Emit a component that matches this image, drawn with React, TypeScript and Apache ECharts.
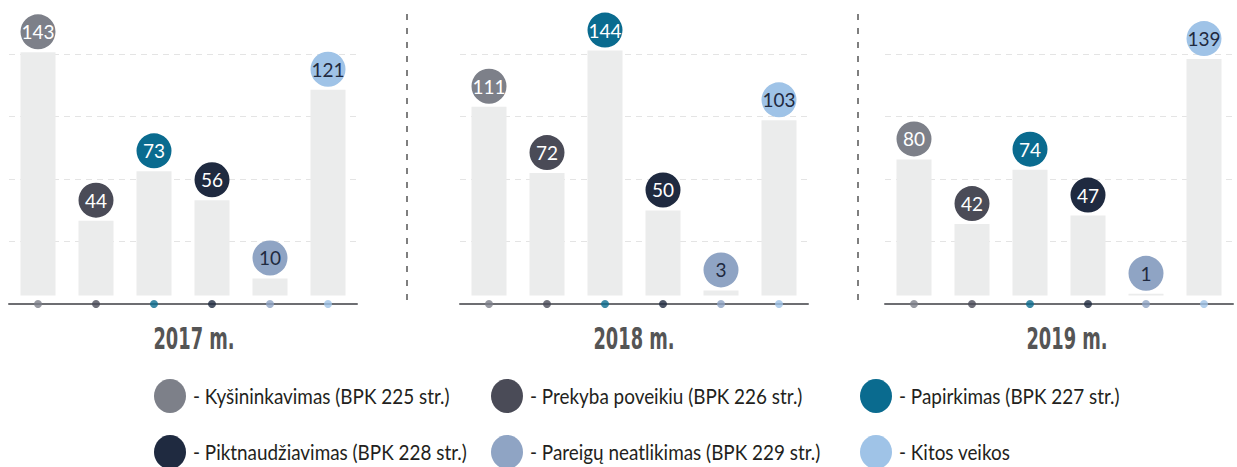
import React, { useEffect, useRef } from "react";
import * as echarts from "echarts";

const categories = [
  "Kyšininkavimas (BPK 225 str.)",
  "Prekyba poveikiu (BPK 226 str.)",
  "Papirkimas (BPK 227 str.)",
  "Piktnaudžiavimas (BPK 228 str.)",
  "Pareigų neatlikimas (BPK 229 str.)",
  "Kitos veikos",
];
const categoryColors = ["#7d8089", "#4a4b57", "#0a6b8f", "#1f2a40", "#8fa4c4", "#9fc3e7"];
const labelTextColors = ["#ffffff", "#ffffff", "#ffffff", "#ffffff", "#1f2a40", "#1f2a40"];
const years = ["2017 m.", "2018 m.", "2019 m."];
const values2017 = [143, 44, 73, 56, 10, 121];
const values2018 = [111, 72, 144, 50, 3, 103];
const values2019 = [80, 42, 74, 47, 1, 139];
const yearValues = [values2017, values2018, values2019];

const Y_MIN = -5;
const Y_MAX = 142;
const GRID_STEPS = 4;

const panelLefts = [9, 460, 885];
const panelWidth = 348;
const titleCenters = [194, 634, 1067];
const separatorXs = [407, 858];
const legendColX = [170, 507, 876];
const legendRowY = [396, 452];

export default function App() {
  const ref = useRef<HTMLDivElement>(null);
  useEffect(() => {
    document.body.style.margin = "0";
    const chart = echarts.init(ref.current!, null, { renderer: "svg" });
    const grids: any[] = [];
    const xAxes: any[] = [];
    const yAxes: any[] = [];
    const series: any[] = [];
    yearValues.forEach((vals, i) => {
      grids.push({ left: panelLefts[i], width: panelWidth, top: 54, bottom: 163 });
      xAxes.push({
        type: "category",
        gridIndex: i,
        data: categories,
        axisLine: { onZero: false, lineStyle: { color: "#6d6e72", width: 2 } },
        axisTick: { show: false },
        axisLabel: { show: false },
        splitLine: { show: false },
      });
      yAxes.push({
        type: "value",
        gridIndex: i,
        min: Y_MIN,
        max: Y_MAX,
        show: false,
        splitLine: { show: false },
      });
      yAxes.push({
        type: "value",
        gridIndex: i,
        min: 0,
        max: GRID_STEPS,
        interval: 1,
        axisLine: { show: false },
        axisTick: { show: false },
        axisLabel: { show: false },
        splitLine: {
          show: true,
          showMinLine: false,
          lineStyle: { color: "#e4e4e4", type: [6, 5], width: 1 },
        },
      });
      series.push({
        type: "bar",
        xAxisIndex: i,
        yAxisIndex: 2 * i,
        barWidth: 35,
        clip: false,
        data: vals.map((v, j) => ({
          value: v,
          itemStyle: { color: "#ebecec" },
          label: { backgroundColor: categoryColors[j], color: labelTextColors[j] },
        })),
        label: {
          show: true,
          position: "top",
          distance: 3,
          width: 35,
          height: 35,
          lineHeight: 35,
          borderRadius: 17.5,
          align: "center",
          fontSize: 19,
          fontFamily: "Lato, 'Open Sans', sans-serif",
        },
      });
      series.push({
        type: "scatter",
        xAxisIndex: i,
        yAxisIndex: 2 * i,
        symbol: "circle",
        symbolSize: 8,
        clip: false,
        z: 5,
        silent: true,
        data: categories.map((c, j) => ({ value: [j, Y_MIN], itemStyle: { color: categoryColors[j] } })),
      });
    });

    const graphic: any[] = [];
    separatorXs.forEach((x) => {
      graphic.push({
        type: "line",
        shape: { x1: x, y1: 14, x2: x, y2: 304 },
        style: { stroke: "#555555", lineWidth: 1.5, lineDash: [6, 8] },
      });
    });
    years.forEach((y, i) => {
      graphic.push({
        type: "text",
        x: titleCenters[i],
        y: 338,
        scaleX: 0.66,
        style: {
          text: y,
          fontSize: 30,
          fontWeight: "bold",
          fontFamily: "'DejaVu Sans Condensed', 'Liberation Sans Narrow', sans-serif",
          fill: "#555555",
          textAlign: "center",
          textVerticalAlign: "middle",
        },
      });
    });
    categories.forEach((c, j) => {
      const cx = legendColX[j % 3];
      const cy = legendRowY[Math.floor(j / 3)];
      graphic.push({
        type: "ellipse",
        shape: { cx, cy, rx: 16, ry: 17 },
        style: { fill: categoryColors[j] },
      });
      graphic.push({
        type: "text",
        x: cx + 23,
        y: cy,
        scaleX: 0.9,
        style: {
          text: "- " + c,
          fontSize: 21,
          fontFamily: "Lato, 'Open Sans', sans-serif",
          fill: "#231f20",
          textVerticalAlign: "middle",
        },
      });
    });

    chart.setOption({
      animation: false,
      grid: grids,
      xAxis: xAxes,
      yAxis: yAxes,
      series,
      graphic,
    });
    return () => chart.dispose();
  }, []);
  return <div ref={ref} style={{ width: 1237, height: 467 }} />;
}
